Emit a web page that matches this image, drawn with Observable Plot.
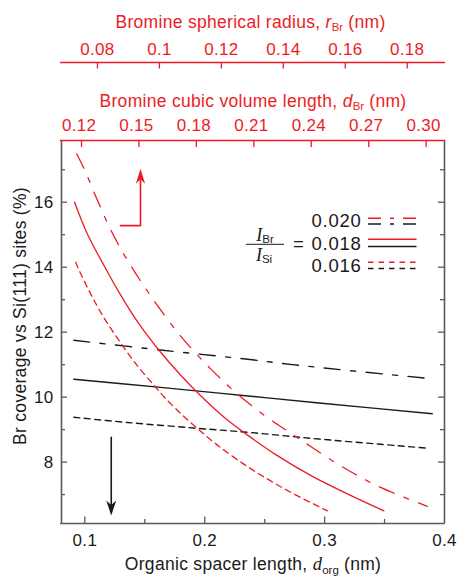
<!DOCTYPE html>
<html><head><meta charset="utf-8">
<script src="https://cdn.jsdelivr.net/npm/d3@7"></script>
<script src="https://cdn.jsdelivr.net/npm/@observablehq/plot@0.6"></script>
<style>html,body{margin:0;padding:0;background:#fff;} #chart{width:460px;height:576px;}</style>
</head><body><div id="chart"></div>
<script>
// ---------- data ----------
const xTicks = [0.1, 0.2, 0.3, 0.4];
const xTickLabels = ["0.1", "0.2", "0.3", "0.4"];
const xMinorTicks = [0.15, 0.25, 0.35];
const yTicks = [8, 10, 12, 14, 16];
const yMinorTicks = [7, 9, 11, 13, 15, 17];
const dBrTicks = [0.12, 0.15, 0.18, 0.21, 0.24, 0.27, 0.30];
const dBrTickLabels = ["0.12", "0.15", "0.18", "0.21", "0.24", "0.27", "0.30"];
const rBrTicks = [0.08, 0.10, 0.12, 0.14, 0.16, 0.18];
const rBrTickLabels = ["0.08", "0.1", "0.12", "0.14", "0.16", "0.18"];
const dBrAlign = {dBr: [0.12, 0.30], dOrg: [0.0972, 0.3847]};
const rBrAlign = {rBr: [0.08, 0.18], dOrg: [0.1105, 0.3689]};

const ratioLabels = ["0.020", "0.018", "0.016"];

// Br coverage (%) vs d_org (nm) — red curves (Br size axes), black lines (organic spacer axis)
const red020 = [[0.0931,17.49],[0.1,16.98],[0.11,16.10],[0.12,15.27],[0.13,14.56],[0.14,13.95],[0.15,13.38],[0.16,12.85],[0.175,12.10],[0.19,11.45],[0.205,10.87],[0.225,10.17],[0.25,9.43],[0.27,8.93],[0.29,8.44],[0.315,7.85],[0.345,7.25],[0.3856,6.64]];
const red018 = [[0.0914,16.0],[0.102,15.03],[0.1173,13.96],[0.1283,13.24],[0.1437,12.33],[0.1617,11.45],[0.1798,10.68],[0.1964,10.05],[0.2187,9.30],[0.2395,8.73],[0.2592,8.23],[0.2898,7.56],[0.3203,7.0],[0.3495,6.50]];
const red016 = [[0.0923,14.15],[0.095,13.92],[0.1048,13.18],[0.1158,12.45],[0.1298,11.67],[0.1437,10.97],[0.1575,10.37],[0.1658,10.02],[0.1798,9.50],[0.1937,9.04],[0.2103,8.53],[0.2353,7.87],[0.2564,7.39],[0.2758,6.99],[0.3023,6.50]];
const black020 = [[0.0908,11.75],[0.1631,11.45],[0.2395,11.15],[0.2731,11.0],[0.3856,10.58]];
const black018 = [[0.0908,10.55],[0.1631,10.30],[0.2298,10.06],[0.2953,9.82],[0.3898,9.49]];
const black016 = [[0.0908,9.38],[0.1353,9.22],[0.1908,9.05],[0.2381,8.91],[0.2953,8.71],[0.3856,8.43]];

// annotation arrows (d_org, coverage)
const redArrowShaft = [[0.1297,15.28],[0.1464,15.28],[0.1464,16.72]];
const redArrowTip = [[0.1464,17.03]];
const blackArrowShaft = [[0.122,8.76],[0.122,6.68]];
const blackArrowTip = [[0.122,6.36]];

// ---------- styling ----------
const RED = "#ed1c24";
const AXIS = "#5a5a5a";
const INK = "#1a1a1a";
const FONT = "'Liberation Sans', Arial, Helvetica, sans-serif";
const SERIF = "'Liberation Serif', 'DejaVu Serif', serif";
const W = 460, H = 576, ML = 61, MR = 16, MT = 140, MB = 53;
const FW = W - ML - MR, FH = H - MT - MB;
const xDom = [0.0805, 0.4], yDom = [6.11, 17.9];

const dBrToOrg = d3.scaleLinear().domain(dBrAlign.dBr).range(dBrAlign.dOrg);
const rBrToOrg = d3.scaleLinear().domain(rBrAlign.rBr).range(rBrAlign.dOrg);

const DASHDOT = "16,10.5,5,10.5";
const DASH = "6,4.5";

const headUp = {draw(ctx){ctx.moveTo(0,0);ctx.lineTo(4.6,15);ctx.lineTo(0,10.5);ctx.lineTo(-4.6,15);ctx.closePath();}};
const headDown = {draw(ctx){ctx.moveTo(0,0);ctx.lineTo(5,-15);ctx.lineTo(0,-10.5);ctx.lineTo(-5,-15);ctx.closePath();}};

const curve = (data, stroke, dash, sw) => Plot.line(data, {x: d => d[0], y: d => d[1], stroke, strokeWidth: sw, strokeDasharray: dash, curve: "catmull-rom"});

const chart = Plot.plot({
  width: W, height: H,
  marginLeft: ML, marginRight: MR, marginTop: MT, marginBottom: MB,
  x: {domain: xDom},
  y: {domain: yDom},
  style: {fontFamily: FONT, fontSize: "17px", color: INK, background: "#fff", overflow: "visible"},
  marks: [
    // frame
    Plot.ruleY([yDom[0]], {stroke: AXIS, strokeWidth: 1.6, insetLeft: -0.8, insetRight: -0.8}),
    Plot.ruleX(xDom, {stroke: AXIS, strokeWidth: 1.6}),
    // inward ticks: bottom
    Plot.ruleX(xTicks.slice(0, 3), {stroke: AXIS, strokeWidth: 1.3, insetTop: FH - 6.5}),
    Plot.ruleX(xMinorTicks, {stroke: AXIS, strokeWidth: 1.3, insetTop: FH - 4}),
    // inward ticks: left and right
    Plot.ruleY(yTicks, {stroke: AXIS, strokeWidth: 1.3, insetRight: FW - 6}),
    Plot.ruleY(yMinorTicks, {stroke: AXIS, strokeWidth: 1.3, insetRight: FW - 4}),
    Plot.ruleY(yTicks, {stroke: AXIS, strokeWidth: 1.3, insetLeft: FW - 6}),
    Plot.ruleY(yMinorTicks, {stroke: AXIS, strokeWidth: 1.3, insetLeft: FW - 4}),
    // tick labels
    Plot.axisX({anchor: "bottom", ticks: xTicks, tickSize: 0, tickPadding: 10.5, label: null,
      tickFormat: d => xTickLabels[xTicks.indexOf(d)], fill: INK}),
    Plot.axisY({anchor: "left", ticks: yTicks, tickSize: 0, tickPadding: 8, label: null, fill: INK}),
    // top axis: d_Br (on frame top)
    Plot.ruleY([yDom[1]], {stroke: RED, strokeWidth: 1.6, insetLeft: -1, insetRight: -1}),
    Plot.ruleX(dBrTicks, {x: d => dBrToOrg(d), stroke: RED, strokeWidth: 1.3, insetBottom: FH - 7}),
    Plot.text(dBrTicks, {x: d => dBrToOrg(d), text: (d, i) => dBrTickLabels[i], frameAnchor: "top", textAnchor: "middle", lineAnchor: "bottom", dy: -9.3, dx: -2.5, fill: RED}),
    Plot.text(["Bromine cubic volume length, d_Br (nm)"], {frameAnchor: "top", textAnchor: "middle", lineAnchor: "bottom", dy: -34, fill: RED, fontSize: 17.5}),
    // top axis: r_Br (above)
    Plot.ruleY([yDom[1]], {stroke: RED, strokeWidth: 1.6, insetLeft: -1, insetRight: -1, dy: -78}),
    Plot.ruleX(rBrTicks, {x: d => rBrToOrg(d), stroke: RED, strokeWidth: 1.3, insetBottom: FH - 6.5, dy: -78}),
    Plot.text(rBrTicks, {x: d => rBrToOrg(d), text: (d, i) => rBrTickLabels[i], frameAnchor: "top", textAnchor: "middle", lineAnchor: "bottom", dy: -86, fill: RED}),
    Plot.text(["Bromine spherical radius, r_Br (nm)"], {frameAnchor: "top", textAnchor: "middle", lineAnchor: "bottom", dy: -113, dx: -2.5, fill: RED, fontSize: 17.5}),
    // axis titles
    Plot.text(["Organic spacer length, d_org (nm)"], {frameAnchor: "bottom", textAnchor: "middle", lineAnchor: "bottom", dy: 46.5, fill: INK, fontSize: 17.5}),
    Plot.text(["Br coverage vs Si(111) sites (%)"], {frameAnchor: "left", textAnchor: "middle", rotate: -90, lineAnchor: "bottom", dx: -36, dy: -16, fill: INK, fontSize: 17.5}),
    // data
    curve(black020, INK, DASHDOT, 1.4),
    curve(black018, INK, null, 1.4),
    curve(black016, INK, DASH, 1.4),
    curve(red020, RED, DASHDOT, 1.3),
    curve(red018, RED, null, 1.3),
    curve(red016, RED, DASH, 1.3),
    // arrows
    Plot.line(redArrowShaft, {x: d => d[0], y: d => d[1], stroke: RED, strokeWidth: 1.6}),
    Plot.dot(redArrowTip, {x: d => d[0], y: d => d[1], symbol: headUp, fill: RED, stroke: "none"}),
    Plot.line(blackArrowShaft, {x: d => d[0], y: d => d[1], stroke: INK, strokeWidth: 1.6}),
    Plot.dot(blackArrowTip, {x: d => d[0], y: d => d[1], symbol: headDown, fill: INK, stroke: "none"})
  ]
});
document.getElementById("chart").appendChild(chart);

// slightly wider letter spacing, like the reference face
d3.select(chart).selectAll("text").attr("letter-spacing", "0.3px");

// ---------- rich text (italics, subscripts) ----------
function rich(key, parts) {
  d3.select(chart).selectAll("text").filter(function () { return this.textContent === key; }).each(function () {
    const t = d3.select(this);
    t.selectAll("*").remove();
    t.text(null);
    let shift = 0;
    parts.forEach(p => {
      const s = t.append("tspan").text(p.t);
      if (p.italic) s.attr("font-style", "italic");
      if (p.serif) s.attr("font-family", SERIF).attr("font-size", "18.5px");
      const target = p.sub ? 3.5 : 0;
      if (target !== shift) { s.attr("dy", target - shift); shift = target; }
      if (p.sub) s.attr("font-size", "11.5px").attr("letter-spacing", "0px");
    });
  });
}
rich("Bromine spherical radius, r_Br (nm)", [{t: "Bromine spherical radius, "}, {t: "r", italic: true}, {t: "Br", sub: true}, {t: " (nm)"}]);
rich("Bromine cubic volume length, d_Br (nm)", [{t: "Bromine cubic volume length, "}, {t: "d", italic: true}, {t: "Br", sub: true}, {t: " (nm)"}]);
rich("Organic spacer length, d_org (nm)", [{t: "Organic spacer length, "}, {t: "d", italic: true, serif: true}, {t: "org", sub: true}, {t: " (nm)"}]);

// ---------- legend ----------
const svg = d3.select(chart);
const lg = svg.append("g").attr("font-family", FONT).attr("fill", INK);
function frac(x, y, sub) {
  const t = lg.append("text").attr("x", x).attr("y", y).attr("text-anchor", "middle");
  t.append("tspan").text("I").attr("font-family", SERIF).attr("font-style", "italic").attr("font-size", "18px");
  t.append("tspan").text(sub).attr("font-size", "11.5px").attr("dy", 2);
}
frac(265, 240.5, "Br");
frac(264, 260.5, "Si");
lg.append("line").attr("x1", 246).attr("x2", 284).attr("y1", 244.3).attr("y2", 244.3).attr("stroke", INK).attr("stroke-width", 1);
lg.append("text").attr("x", 298.5).attr("y", 250.3).attr("text-anchor", "middle").attr("font-size", "18.5px").text("=");
const legendY = [227, 250, 272];
const legendRed = [218.3, 239.3, 262.3];
const legendBlack = [224, 246.5, 268.5];
const legendDash = ["13,9,4,9", null, "5.5,5"];
ratioLabels.forEach((lab, i) => {
  lg.append("text").attr("x", 361.7).attr("y", legendY[i]).attr("text-anchor", "end").attr("font-size", "18.5px").attr("letter-spacing", "0.8px").text(lab);
  [[legendRed[i], RED], [legendBlack[i], INK]].forEach(([yy, c]) => {
    const l = lg.append("line").attr("x1", 368).attr("x2", 416.5).attr("y1", yy).attr("y2", yy).attr("stroke", c).attr("stroke-width", 1.5);
    if (legendDash[i]) l.attr("stroke-dasharray", legendDash[i]);
  });
});
</script></body></html>
